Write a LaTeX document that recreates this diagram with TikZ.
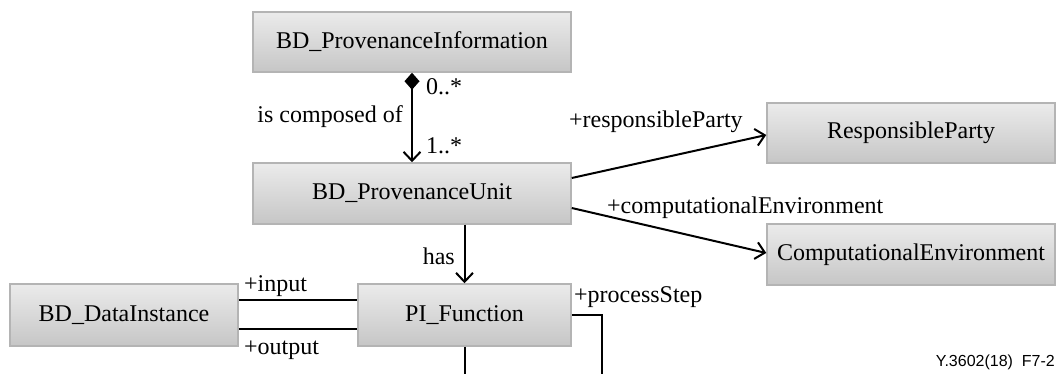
\documentclass[tikz,border=0pt]{standalone}
\usepackage{fontspec}
\setmainfont{Liberation Serif}
\newfontfamily\sansf{Liberation Sans}
\usetikzlibrary{arrows.meta,shadings}
\definecolor{boxtop}{HTML}{EBEBEB}
\definecolor{boxbot}{HTML}{C6C6C6}
\definecolor{boxline}{HTML}{B4B4B4}
\tikzset{
  umlbox/.style={rectangle, draw=boxline, line width=1.5pt, top color=boxtop, bottom color=boxbot,
    inner sep=0pt, text=black, font=\fontsize{24}{28}\selectfont},
  lbl/.style={inner sep=0pt, font=\fontsize{24}{28}\selectfont},
  conn/.style={line width=2pt, draw=black},
  barb/.style={-{Straight Barb[length=9pt,width=17pt,line width=2pt]}},
  comp/.style={{Diamond[length=17pt,width=15pt,fill=black]}-{Straight Barb[length=9pt,width=17pt,line width=2pt]}}
}
\begin{document}
\begin{tikzpicture}[x=1pt,y=-1pt]
\useasboundingbox (0,0) rectangle (1060,374);
% boxes
\node[umlbox, minimum width=318pt, minimum height=60pt] (pinfo) at (412,42) {BD\_ProvenanceInformation};
\node[umlbox, minimum width=318pt, minimum height=61pt] (punit) at (412,193.5) {BD\_ProvenanceUnit};
\node[umlbox, minimum width=288pt, minimum height=60pt] (rparty) at (911,133) {ResponsibleParty};
\node[umlbox, minimum width=288pt, minimum height=61pt] (cenv) at (911,254.5) {ComputationalEnvironment};
\node[umlbox, minimum width=228pt, minimum height=62pt] (dinst) at (124,315) {BD\_DataInstance};
\node[umlbox, minimum width=213pt, minimum height=62pt] (pfunc) at (464.5,315) {PI\_Function};
% free ends at the bottom edge
\coordinate (psEnd) at (602,374);
\coordinate (pfEnd) at (464.5,374);
% connectors
\draw[conn, comp] (pinfo.south) -- (punit.north);
\draw[conn, barb] (pfunc.north |- punit.south) -- (pfunc.north);
\draw[conn, barb] ([yshift=15.5pt]punit.east) -- ([yshift=-2pt]rparty.west);
\draw[conn, barb] ([yshift=-14.5pt]punit.east) -- ([yshift=1.5pt]cenv.west);
\draw[conn] ([yshift=15pt]dinst.east) -- ([yshift=15pt]pfunc.west);
\draw[conn] ([yshift=-14pt]dinst.east) -- ([yshift=-14pt]pfunc.west);
\draw[conn] (pfunc.east) -| (psEnd);
\draw[conn] (pfunc.south) -- (pfEnd);
% labels
\node[lbl, anchor=west] (l0) at (426,87) {0..*};
\node[lbl, anchor=west] (l1) at (426,146) {1..*};
\node[lbl, anchor=east] (lcomp) at (403,117) {is composed of};
\node[lbl, anchor=west] (lrp) at (569,122) {+responsibleParty};
\node[lbl, anchor=west] (lce) at (607,208) {+computationalEnvironment};
\node[lbl, anchor=east] (lhas) at (455,256) {has};
\node[lbl, anchor=west] (lin) at (244,286) {+input};
\node[lbl, anchor=west] (lout) at (244,350) {+output};
\node[lbl, anchor=west] (lps) at (574,297) {+processStep};
\node[inner sep=0pt, anchor=east, font=\sansf\fontsize{16}{18}\selectfont] (fig) at (1055,362) {Y.3602(18)\ \ F7-2};
\end{tikzpicture}
\end{document}
